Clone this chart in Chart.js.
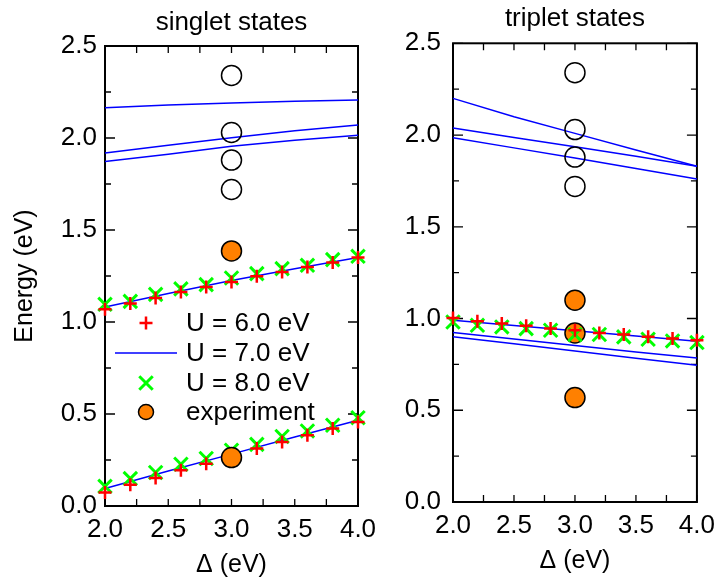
<!DOCTYPE html>
<html>
<head>
<meta charset="utf-8">
<script src="https://cdn.jsdelivr.net/npm/chart.js@4.4.1/dist/chart.umd.min.js"></script>
<style>
  html, body { margin: 0; padding: 0; background: #fff; }
  #wrap { position: relative; width: 723px; height: 580px; overflow: hidden; }
  .box { position: absolute; top: 0; height: 580px; }
  #left { left: 0; width: 400px; }
  #right { left: 370px; width: 353px; }
</style>
</head>
<body>
<div id="wrap">
  <div class="box" id="left"><canvas id="singlet"></canvas></div>
  <div class="box" id="right"><canvas id="triplet"></canvas></div>
</div>
<script>
// Delta values (eV)
const deltaPoints = [2.0, 2.2, 2.4, 2.6, 2.8, 3.0, 3.2, 3.4, 3.6, 3.8, 4.0];
const deltaLine = [2.0, 2.5, 3.0, 3.5, 4.0];
const deltaExpt = 3.0;

// singlet states
const singU6Low = [0.073, 0.116, 0.152, 0.194, 0.230, 0.272, 0.312, 0.348, 0.384, 0.421, 0.457];
const singU6High = [1.069, 1.100, 1.130, 1.163, 1.190, 1.217, 1.248, 1.272, 1.299, 1.323, 1.350];
const singU8Low = [0.107, 0.149, 0.182, 0.227, 0.258, 0.303, 0.335, 0.378, 0.408, 0.439, 0.480];
const singU8High = [1.096, 1.112, 1.150, 1.180, 1.203, 1.239, 1.263, 1.290, 1.308, 1.339, 1.357];
const singU7Lines = [
  [2.165, 2.180, 2.190, 2.200, 2.207],
  [1.918, 1.960, 2.002, 2.040, 2.071],
  [1.872, 1.912, 1.955, 1.988, 2.015],
  [1.082, 1.155, 1.226, 1.290, 1.350],
  [0.095, 0.190, 0.282, 0.375, 0.466]
];
const singExptAssigned = [1.386, 0.263];
const singExptOther = [2.34, 2.03, 1.88, 1.72];

// triplet states
const tripU6 = [1.003, 0.985, 0.973, 0.960, 0.945, 0.936, 0.921, 0.913, 0.900, 0.891, 0.882];
const tripU8 = [0.981, 0.963, 0.954, 0.945, 0.936, 0.912, 0.913, 0.900, 0.887, 0.878, 0.869];
const tripU7Lines = [
  [2.200, 2.100, 2.009, 1.918, 1.830],
  [2.039, 1.987, 1.936, 1.884, 1.830],
  [1.985, 1.930, 1.875, 1.818, 1.761],
  [0.991, 0.962, 0.934, 0.905, 0.876],
  [0.924, 0.888, 0.853, 0.818, 0.785],
  [0.900, 0.862, 0.823, 0.784, 0.745]
];
const tripExptAssigned = [1.100, 0.921, 0.569];
const tripExptOther = [2.34, 2.03, 1.88, 1.72];

const legendLabels = ["U = 6.0 eV", "U = 7.0 eV", "U = 8.0 eV", "experiment"];

const RED = "#ff0000", GREEN = "#00ff00", BLUE = "#0000ff", ORANGE = "#ff8000";
const FONT = "'Liberation Sans', Arial, sans-serif";

Chart.defaults.font.family = FONT;
Chart.defaults.color = "#000";

const xy = (xs, ys) => xs.map((x, i) => ({ x: x, y: ys[i] }));
const atExpt = (ys) => ys.map(y => ({ x: deltaExpt, y: y }));

function u6Set(data, order) {
  return { label: legendLabels[0], data: data, pointStyle: "cross", pointRadius: 6.5,
    borderColor: RED, backgroundColor: RED, pointBorderWidth: 2.5, showLine: false, clip: false, order: order };
}
function u8Set(data, order) {
  return { label: legendLabels[2], data: data, pointStyle: "crossRot", pointRadius: 9.5,
    borderColor: GREEN, backgroundColor: GREEN, pointBorderWidth: 3, showLine: false, clip: false, order: order };
}
function u7Sets(lines, order) {
  return lines.map(ys => ({ label: legendLabels[1], data: xy(deltaLine, ys), showLine: true,
    pointRadius: 0, borderColor: BLUE, borderWidth: 1.5, tension: 0, clip: false, order: order }));
}
function exptSet(ys, order) {
  return { label: legendLabels[3], data: atExpt(ys), pointStyle: "circle", pointRadius: 10,
    backgroundColor: ORANGE, borderColor: "#000", pointBorderWidth: 1.5, showLine: false, clip: false, order: order };
}
function openSet(ys, order) {
  return { label: "other", data: atExpt(ys), pointStyle: "circle", pointRadius: 10,
    backgroundColor: "rgba(0,0,0,0)", borderColor: "#000", pointBorderWidth: 1.5, showLine: false, clip: false, order: order };
}

// frame + inward ticks on all four sides
const xMinorStep = 0.25, yMinorStep = 0.25, yMajorStep = 0.5;
const framePlugin = {
  id: "frame",
  beforeDatasetsDraw(chart) {
    const { ctx, chartArea: a, scales: { x, y } } = chart;
    ctx.save();
    ctx.strokeStyle = "#000";
    ctx.lineWidth = 2;
    ctx.strokeRect(a.left, a.top, a.right - a.left, a.bottom - a.top);
    ctx.lineWidth = 1.3;
    ctx.beginPath();
    for (let v = x.min; v <= x.max + 1e-9; v += xMinorStep) {
      const px = x.getPixelForValue(v);
      ctx.moveTo(px, a.bottom); ctx.lineTo(px, a.bottom - 7);
      ctx.moveTo(px, a.top); ctx.lineTo(px, a.top + 7);
    }
    for (let v = y.min; v <= y.max + 1e-9; v += yMinorStep) {
      const py = y.getPixelForValue(v);
      const major = Math.abs(v / yMajorStep - Math.round(v / yMajorStep)) < 1e-6;
      const len = major ? 10 : 6;
      ctx.moveTo(a.left, py); ctx.lineTo(a.left + len, py);
      ctx.moveTo(a.right, py); ctx.lineTo(a.right - len, py);
    }
    ctx.stroke();
    ctx.restore();
  }
};

// legend drawn inside the singlet panel
const legendPlugin = {
  id: "innerLegend",
  afterDraw(chart) {
    const { ctx, chartArea: a } = chart;
    const sets = chart.data.datasets;
    const symX = a.left + 41, textX = a.left + 81, rowY = [323, 353, 383, 412];
    ctx.save();
    ctx.font = "26px " + FONT;
    ctx.textBaseline = "middle";
    legendLabels.forEach((lab, i) => {
      const ds = sets.find(d => d.label === lab);
      const yy = rowY[i];
      if (ds.showLine) {
        ctx.strokeStyle = ds.borderColor;
        ctx.lineWidth = ds.borderWidth;
        ctx.beginPath();
        ctx.moveTo(a.left + 10, yy); ctx.lineTo(a.left + 72, yy);
        ctx.stroke();
      } else {
        ctx.strokeStyle = ds.borderColor;
        ctx.fillStyle = ds.backgroundColor;
        ctx.lineWidth = ds.pointBorderWidth;
        const r = ds.pointStyle === "circle" ? 7.5 : ds.pointRadius;
        Chart.helpers.drawPoint(ctx, { pointStyle: ds.pointStyle, radius: r, rotation: 0, borderWidth: ds.pointBorderWidth }, symX, yy);
      }
      ctx.fillStyle = "#000";
      ctx.fillText(lab, textX, yy + 1);
    });
    ctx.restore();
  }
};

function makeOptions(cfg) {
  return {
    responsive: true,
    maintainAspectRatio: false,
    animation: false,
    layout: { padding: { left: 0, right: cfg.padRight, top: 0, bottom: 0 } },
    plugins: {
      legend: { display: false },
      tooltip: { enabled: false },
      title: { display: true, text: cfg.title, fullSize: false, color: "#000",
        font: { size: 26, weight: "normal" }, padding: { top: cfg.titleTop, bottom: cfg.titleBottom } }
    },
    scales: {
      x: {
        type: "linear", min: 2, max: 4,
        grid: { display: false, drawTicks: false }, border: { display: false },
        ticks: { stepSize: 0.5, padding: cfg.xPad, font: { size: 26 }, color: "#000",
          maxRotation: 0, autoSkip: false, callback: v => v.toFixed(1) },
        title: { display: true, text: "Δ (eV)", color: "#000", font: { size: 25 },
          padding: { top: 0, bottom: cfg.xTitleBottom } },
        afterFit(s) { s.height = cfg.xHeight; }
      },
      y: {
        type: "linear", min: 0, max: 2.5,
        grid: { display: false, drawTicks: false }, border: { display: false },
        ticks: { stepSize: 0.5, padding: cfg.yPad, font: { size: 26 }, color: "#000",
          callback: v => v.toFixed(1) },
        title: { display: cfg.yTitle !== "", text: cfg.yTitle, color: "#000", font: { size: 25 },
          padding: { top: 10, bottom: 0 } },
        afterFit(s) { s.width = cfg.yWidth; }
      }
    }
  };
}

new Chart(document.getElementById("singlet"), {
  type: "scatter",
  data: {
    datasets: [
      exptSet(singExptAssigned, 0),
      openSet(singExptOther, 1),
      u6Set(xy(deltaPoints, singU6High).concat(xy(deltaPoints, singU6Low)), 2),
      u8Set(xy(deltaPoints, singU8High).concat(xy(deltaPoints, singU8Low)), 3),
      ...u7Sets(singU7Lines, 4)
    ]
  },
  options: makeOptions({ title: "singlet states", padRight: 42, titleTop: 7.4, titleBottom: 7.4,
    xPad: 8, xTitleBottom: 0, xHeight: 74, yPad: 8, yTitle: "Energy (eV)", yWidth: 105 }),
  plugins: [framePlugin, legendPlugin]
});

new Chart(document.getElementById("triplet"), {
  type: "scatter",
  data: {
    datasets: [
      u6Set(xy(deltaPoints, tripU6), 0),
      u8Set(xy(deltaPoints, tripU8), 1),
      exptSet(tripExptAssigned, 2),
      openSet(tripExptOther, 3),
      ...u7Sets(tripU7Lines, 4)
    ]
  },
  options: makeOptions({ title: "triplet states", padRight: 17, titleTop: 3.4, titleBottom: 8.7,
    xPad: 8, xTitleBottom: 3.5, xHeight: 78, yPad: 12, yTitle: "", yWidth: 83 }),
  plugins: [framePlugin]
});
</script>
</body>
</html>
